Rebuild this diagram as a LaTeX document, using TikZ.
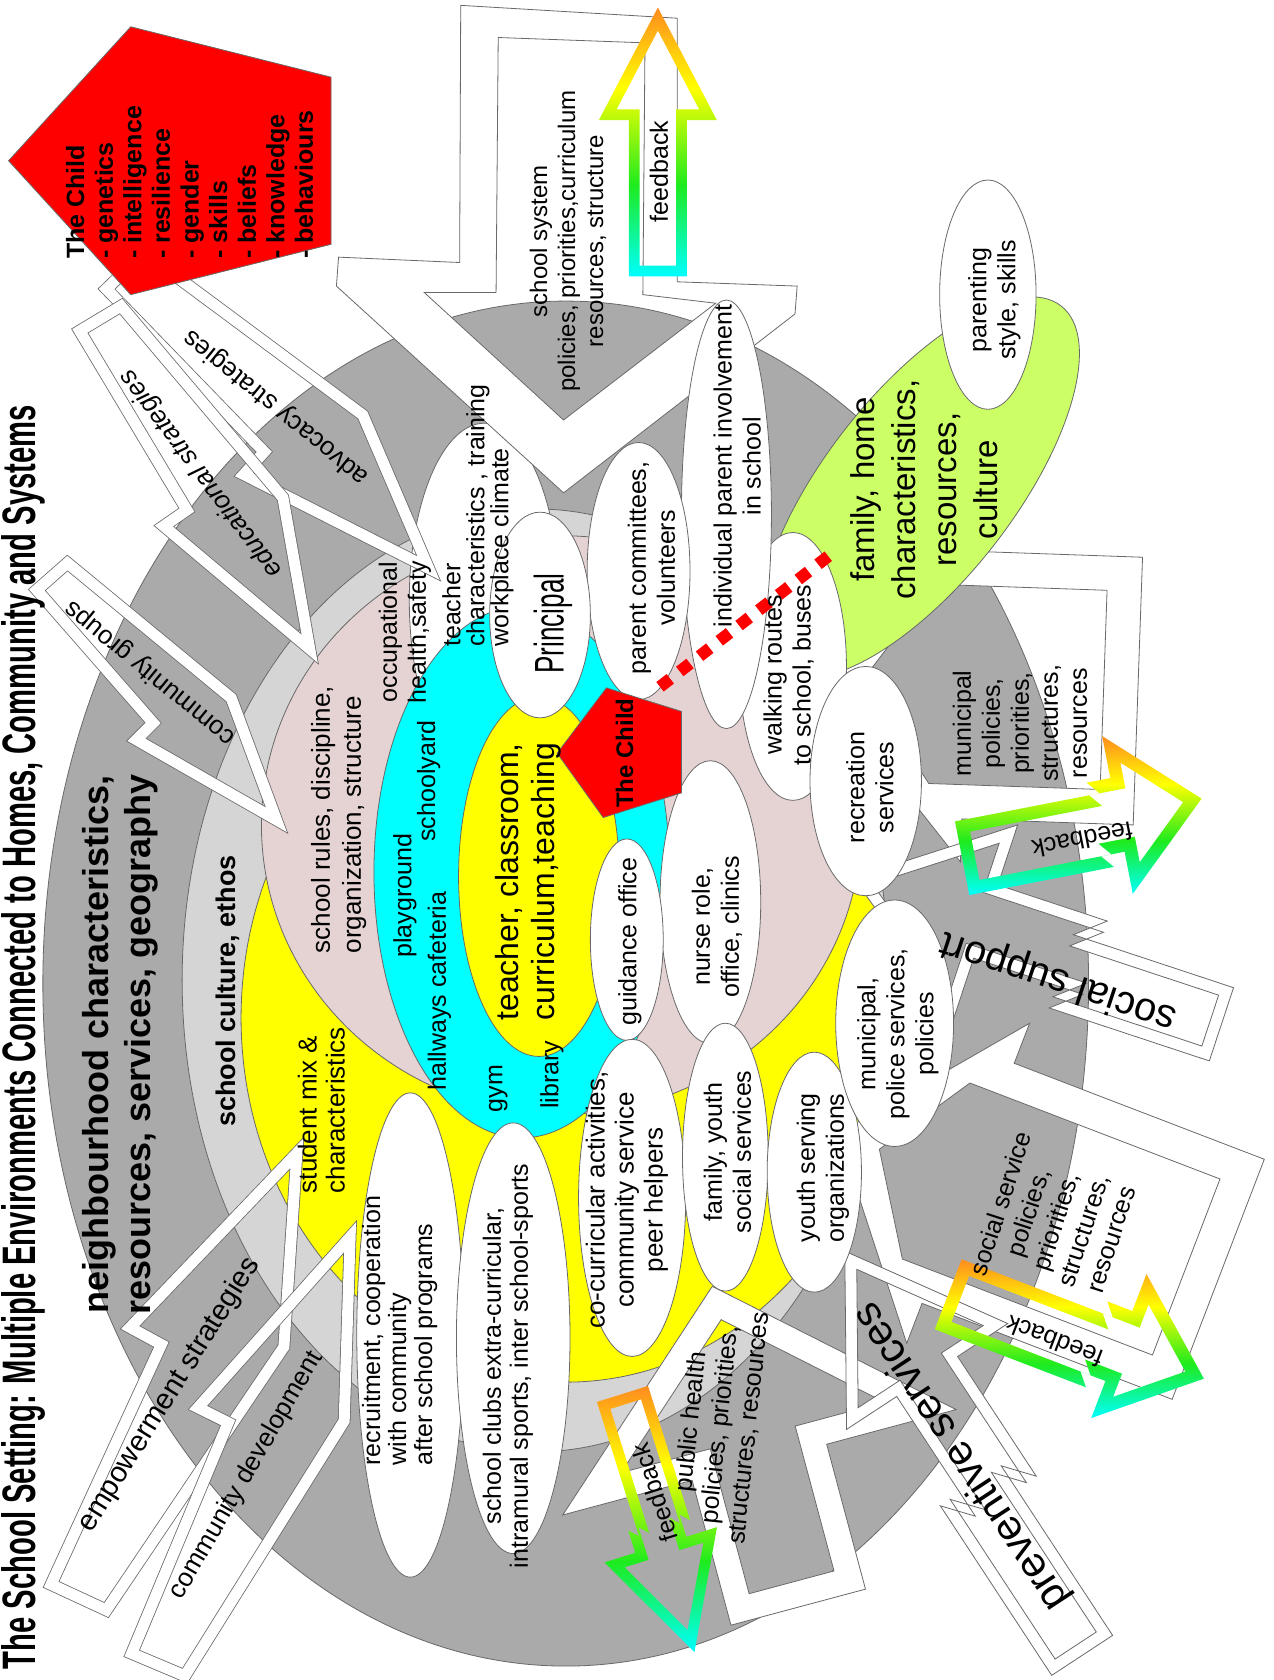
\documentclass[tikz,border=0pt]{standalone}
\usepackage{fontspec}
\setmainfont{Liberation Sans}
\usepackage{graphicx}
\usetikzlibrary{calc}
\definecolor{dgray}{RGB}{170,170,170}
\definecolor{lgray}{RGB}{213,213,213}
\definecolor{pinkc}{RGB}{229,211,211}
\definecolor{greenc}{RGB}{204,255,102}
\definecolor{olc}{RGB}{105,105,105}
\definecolor{orng}{RGB}{255,140,30}
\definecolor{cyanc}{RGB}{0,255,255}
\definecolor{yellowc}{RGB}{255,255,0}
\definecolor{greenf}{RGB}{30,235,30}
\definecolor{redc}{RGB}{255,0,0}
\pgfdeclareverticalshading{fbshade}{100bp}{color(0bp)=(cyanc); color(25bp)=(cyanc); color(42bp)=(greenf); color(60bp)=(yellowc); color(75bp)=(orng); color(100bp)=(orng)}
\pgfkeys{/ha/.is family}
\pgfkeys{/ha/.cd, L/.store in=\haL, w/.store in=\haW, h/.store in=\haH, hl/.store in=\haHL,
  d/.store in=\haD, t/.store in=\haT, kx/.store in=\haKX, ks/.store in=\haKS,
  default/.style={L=300,w=25,h=60,hl=100,d=0,t=9,kx=0.55,ks=16}}
\newcommand{\hollowarrow}[4]{%
 \begin{scope}[shift={#2},rotate=#3]
 \pgfkeys{/ha/.cd,default,#4}%
 \pgfmathsetmacro\haB{\haL-\haHL}%
 \pgfmathsetmacro\haK{\haKX*\haB}%
 \pgfmathsetmacro\haKK{\haK+\haKS}%
 \pgfmathsetmacro\iW{\haW-\haT}%
 \pgfmathsetmacro\iB{\haB+\haT}%
 \pgfmathsetmacro\haV{veclen(\haH,\haHL)}%
 \pgfmathsetmacro\iL{\haL-\haT/\haH*\haV}%
 \pgfmathsetmacro\iH{max((\iL-\iB)/\haHL*\haH,\iW)}%
 \path[#1, even odd rule]
  (0,-\haW) -- (\haKK,-\haW) -- (\haK,\haD-\haW) -- (\haB,\haD-\haW) -- (\haB,\haD-\haH) -- (\haL,\haD)
  -- (\haB,\haD+\haH) -- (\haB,\haD+\haW) -- (\haK,\haD+\haW) -- (\haKK,\haW) -- (0,\haW) -- cycle
  (\haT,-\iW) -- (\haKK,-\iW) -- (\haK,\haD-\iW) -- (\iB,\haD-\iW) -- (\iB,\haD-\iH) -- (\iL,\haD)
  -- (\iB,\haD+\iH) -- (\iB,\haD+\iW) -- (\haK,\haD+\iW) -- (\haKK,\iW) -- (\haT,\iW) -- cycle;
 \end{scope}}
% hooked strategy arrow: tail centre, shaft angle, length, side (+1/-1)
\newcommand{\hookarrow}[4]{%
 \begin{scope}[shift={#1},rotate=#2,yscale=#4]
 \draw[hband] (0,-0.062*#3) -- (0.654*#3,-0.062*#3) -- (#3,0.139*#3) -- (0.51*#3,0.223*#3)
   -- (0.517*#3,0.15*#3) -- (-0.02*#3,0.062*#3) -- cycle;
 \end{scope}}
\begin{document}
\begin{tikzpicture}[x=0.5357pt,y=-0.5357pt,
  lbl/.style={inner sep=0pt, align=center, font=\fontsize{12.5}{14.5}\selectfont},
  reg/.style={draw=olc, line width=0.4pt},
  wband/.style={fill=white, draw=olc, line width=0.4pt},
  hband/.style={draw=olc, line width=0.4pt, double=white, double distance=5.5pt, line join=miter, miter limit=25},
  fband/.style={shade, shading=fbshade}]
\useasboundingbox (0,0) rectangle (1189,1568);
\fill[white] (0,0) rectangle (1189,1568);
% nested regions
\path[reg, fill=dgray] (528,918) ellipse [x radius=488, y radius=637];
\path[reg, fill=lgray] (500,915) ellipse [x radius=330, y radius=440];
\path[reg, fill=yellowc] (528,950) ellipse [x radius=303, y radius=340];
\path[reg, fill=pinkc] (524,770) ellipse [x radius=280, y radius=270];
\path[reg, fill=white] (452,560) ellipse [x radius=70, y radius=165];
% white hollow arrows
\path[wband, even odd rule] (430,5) -- (632,17) -- (632,263) -- (744,267) -- (742,293) -- (526,460) -- (314,267) -- (316,240) -- (429,245) -- cycle
  (465,35) -- (602,40) -- (600,275) -- (668,283) -- (526,392) -- (396,273) -- (463,273) -- cycle;
\hookarrow{(120,255)}{-36.6}{389}{1}
\hookarrow{(96,300)}{-49.8}{358}{1}
\hookarrow{(51,540)}{-39.5}{303}{1}
\hookarrow{(76,1487)}{56}{453}{-1}
\hookarrow{(150,1550)}{58}{429}{-1}
\hollowarrow{wband}{(1062,645)}{178}{L=300,w=125,h=165,hl=140,t=32}
\hollowarrow{wband}{(1137,1194)}{159}{L=380,w=120,h=160,hl=130,t=32}
\hollowarrow{wband}{(745,1500)}{105}{L=310,w=65,h=190,hl=170,t=24}
\hollowarrow{wband}{(1140,956)}{161.7}{L=369,w=36,h=95,hl=130,d=22,t=11,ks=26}
\hollowarrow{wband}{(1010,1545)}{123.3}{L=437,w=34,h=90,hl=140,d=22,t=11,ks=26}
% inner school zones
\path[reg, fill=cyanc] (487,814) ellipse [x radius=138, y radius=248];
\path[reg, fill=yellowc] (503,818) ellipse [x radius=75, y radius=168];
\path[reg, fill=greenc, rotate around={52:(858,455)}] (858,455) ellipse [x radius=215, y radius=88];
\path[reg, fill=white] (922,275) ellipse [x radius=45, y radius=107];
% white ellipses
\path[reg, fill=white] (740,622) ellipse [x radius=50, y radius=125];
\path[reg, fill=white] (678,480) ellipse [x radius=42, y radius=200];
\path[reg, fill=white] (596,533) ellipse [x radius=48, y radius=120];
\path[reg, fill=white] (504,574) ellipse [x radius=47, y radius=96];
\path[reg, fill=white] (808,729) ellipse [x radius=52, y radius=107];
\path[reg, fill=white] (663,842) ellipse [x radius=47, y radius=132];
\path[reg, fill=white] (585,877) ellipse [x radius=34, y radius=94];
\path[reg, fill=white] (590,1118) ellipse [x radius=50, y radius=148];
\path[reg, fill=white] (677,1080) ellipse [x radius=40, y radius=125];
\path[reg, fill=white] (760,1094) ellipse [x radius=44, y radius=112];
\path[reg, fill=white] (835,955) ellipse [x radius=55, y radius=115];
\path[reg, fill=white] (383,1246) ellipse [x radius=50, y radius=226];
\path[reg, fill=white] (479,1249) ellipse [x radius=53, y radius=201];
% small child pentagon and link to family
\path[reg, fill=redc] (520,703) -- (566,642) -- (636,664) -- (636,740) -- (563,763) -- cycle;
\coordinate (dashA) at (616,641);
\coordinate (dashB) at (781,513);
\draw[redc, line width=6pt, dash pattern=on 6.5pt off 6pt] (dashA) -- (dashB);
% feedback arrows
\hollowarrow{fband}{(614,258)}{90}{L=251,w=27,h=55,hl=105,t=10}
\hollowarrow{fband}{(898,801)}{11}{L=230,w=35,h=75,hl=80,d=-12,t=12,kx=0.85,ks=10}
\hollowarrow{fband}{(885,1208)}{-21}{L=251,w=35,h=72,hl=85,d=-12,t=12,kx=0.85,ks=10}
\hollowarrow{fband}{(581,1301)}{-72.6}{L=250,w=25,h=55,hl=105,d=8,t=10,kx=0.85,ks=8}
% big child pentagon
\path[reg, fill=redc] (8,150) -- (122,25) -- (309,72) -- (309,228) -- (122,275) -- cycle;
% texts
\node[rotate=90, inner sep=0pt] (title) at (22,968) {\resizebox{632pt}{17pt}{\bfseries The School Setting: Multiple Environments Connected to Homes, Community and Systems}};
\node[rotate=90, anchor=west, align=left, inner sep=0pt, font=\bfseries\fontsize{12.5}{14.3}\selectfont] (childlist) at (177,242) {The Child\\- genetics\\- intelligence\\- resilience\\- gender\\- skills\\- beliefs\\- knowledge\\- behaviours};
\node[lbl, rotate=90, font=\bfseries\fontsize{18}{21}\selectfont] (neigh) at (112,975) {neighbourhood characteristics,\\resources, services, geography};
\node[lbl, rotate=90, font=\bfseries\fontsize{13.5}{16}\selectfont] (culture) at (213,925) {school culture, ethos};
\node[lbl, rotate=90, anchor=west, align=left, font=\fontsize{13}{14}\selectfont] (student) at (300,1114) {student mix \&\\characteristics};
\node[lbl, rotate=90, anchor=west, align=left, font=\fontsize{13}{15.5}\selectfont] (rules) at (316,890) {school rules, discipline,\\organization, structure};
\node[lbl, rotate=90] (occ) at (378,590) {occupational\\health,safety};
\node[lbl, rotate=90, anchor=west, align=left, font=\fontsize{12.5}{12}\selectfont] (teach) at (446,604) {teacher\\characteristics , training\\workplace climate};
\node[rotate=90, inner sep=0pt] (principal) at (516,582) {\resizebox{50pt}{15pt}{Principal}};
\node[lbl, rotate=90] (parentc) at (608,530) {parent committees,\\volunteers};
\node[lbl, rotate=90] (indiv) at (688,435) {individual parent involvement\\in school};
\node[lbl, rotate=90] (walk) at (736,630) {walking routes\\to school, buses};
\node[lbl, rotate=90, font=\fontsize{16.5}{20.5}\selectfont] (family) at (863,457) {family, home\\characteristics,\\resources,\\culture};
\node[lbl, rotate=90] (parenting) at (928,280) {parenting\\style, skills};
\node[lbl, rotate=90] (recr) at (812,735) {recreation\\services};
\node[lbl, rotate=90] (muni) at (952,675) {municipal\\policies,\\priorities,\\structures,\\resources};
\node[lbl, rotate=90] (nurse) at (669,865) {nurse role,\\office, clinics};
\node[lbl, rotate=90] (guid) at (588,879) {guidance office};
\node[lbl, rotate=90, font=\fontsize{16}{18}\selectfont] (tcc) at (493,823) {teacher, classroom,\\curriculum,teaching};
\node[lbl, rotate=90] (playg) at (378,836) {playground};
\node[lbl, rotate=90] (schooly) at (400,729) {schoolyard};
\node[lbl, rotate=90] (hallw) at (410,925) {hallways cafeteria};
\node[lbl, rotate=90] (gym) at (465,1016) {gym};
\node[lbl, rotate=90] (libr) at (515,1003) {library};
\node[lbl, rotate=90, font=\bfseries\fontsize{12}{14}\selectfont] (childs) at (583,703) {The Child};
\node[lbl, rotate=90, font=\fontsize{13}{14.5}\selectfont] (cocurr) at (585,1120) {co-curricular activities,\\community service\\peer helpers};
\node[lbl, rotate=90] (famy) at (679,1075) {family, youth\\social services};
\node[lbl, rotate=90] (youth) at (768,1090) {youth serving\\organizations};
\node[lbl, rotate=90] (mpol) at (838,965) {municipal,\\police services,\\policies};
\node[lbl, rotate=90, anchor=west, align=left, font=\fontsize{12.5}{13}\selectfont] (recruit) at (373,1368) {recruitment, cooperation\\with community\\after school programs};
\node[lbl, rotate=90, font=\fontsize{12.5}{13.5}\selectfont] (clubs) at (474,1275) {school clubs extra-curricular,\\intramural sports, inter school-sports};
\node[lbl, rotate=84] (pubh) at (672,1330) {public health\\policies, priorities,\\structures, resources};
\node[lbl, rotate=72] (socserv) at (985,1140) {social service\\policies,\\priorities,\\structures,\\resources};
\node[lbl, rotate=90, font=\fontsize{12}{14}\selectfont] (schsys) at (530,225) {school system\\policies, priorities,curriculum\\resources, structure};
\node[lbl, rotate=141, font=\fontsize{13}{15}\selectfont] (advl) at (258,380) {advocacy strategies};
\node[lbl, rotate=127, font=\itshape\fontsize{13}{15}\selectfont] (edul) at (188,442) {educational strategies};
\node[lbl, rotate=140.5, font=\fontsize{13}{15}\selectfont] (cgl) at (140,628) {community groups};
\node[lbl, rotate=58, font=\fontsize{14.5}{16}\selectfont] (empl) at (158,1302) {empowerment strategies};
\node[lbl, rotate=60, font=\fontsize{13}{15}\selectfont] (cdl) at (230,1377) {community development};
\node[lbl, rotate=161.7, font=\fontsize{20}{22}\selectfont] (ssl) at (988,915) {social support};
\node[lbl, rotate=123.3, font=\fontsize{21}{23}\selectfont] (psl) at (898,1359) {preventive services};
\node[lbl, rotate=90] (fb1) at (615,160) {feedback};
\node[lbl, rotate=191] (fb2) at (1010,784) {feedback};
\node[lbl, rotate=159] (fb3) at (984,1252) {feedback};
\node[lbl, rotate=107.4] (fb4) at (611,1393) {feedback};
\end{tikzpicture}
\end{document}
